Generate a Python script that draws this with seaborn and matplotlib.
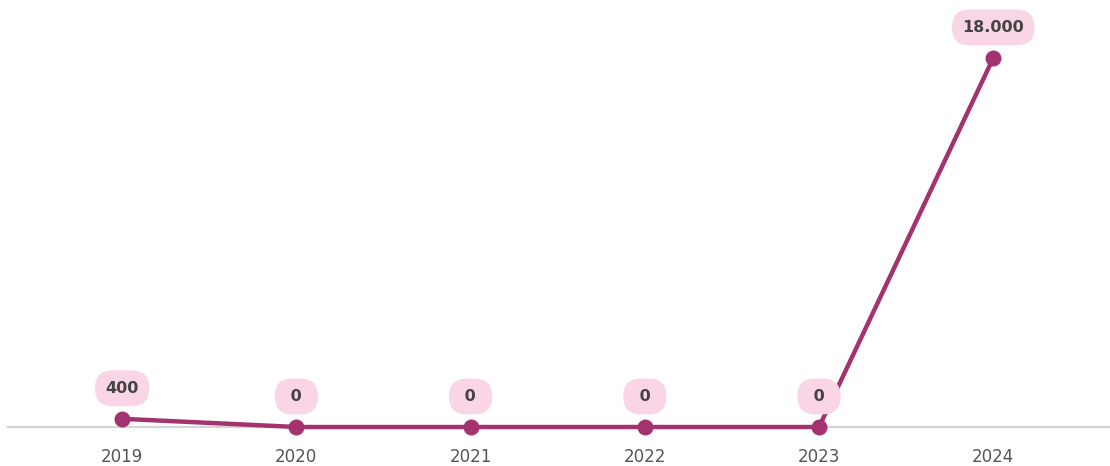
import matplotlib
matplotlib.use("Agg")
import matplotlib.pyplot as plt
import seaborn as sns
import pandas as pd

years = ["2019", "2020", "2021", "2022", "2023", "2024"]
values = [400, 0, 0, 0, 0, 18000]
labels = ["400", "0", "0", "0", "0", "18.000"]

line_color = "#a3326e"
box_color = "#f9d5e5"
text_color = "#444444"

sns.set_theme(style="white")
plt.rcParams["font.family"] = ["DejaVu Sans"]

df = pd.DataFrame({"year": years, "value": values})
df["pos"] = range(len(years))

fig = plt.figure(figsize=(11.10, 4.66), dpi=100)
ax = fig.add_axes([8 / 1110, 39 / 466, 1102 / 1110, 427 / 466])

sns.lineplot(data=df, x="pos", y="value", ax=ax, color=line_color,
             linewidth=3.2, marker="o", markersize=11.5,
             markeredgewidth=0, markerfacecolor=line_color, clip_on=False,
             zorder=3)

for x, y, t in zip(df["pos"], df["value"], labels):
    # short labels get a rounder, pill-like badge
    shown = f" {t} " if len(t) == 1 else t
    ax.annotate(shown, (x, y), xytext=(0, 22), textcoords="offset points",
                ha="center", va="center", fontsize=11.5, fontweight="bold",
                color=text_color,
                bbox=dict(boxstyle="round,pad=0.65,rounding_size=1.1",
                          fc=box_color, ec="none"),
                zorder=4, annotation_clip=False)

ax.set_xlim(-0.655, 5.67)
ax.set_ylim(0, 20830)
ax.set_xticks(df["pos"])
ax.set_xticklabels(years)
ax.set_yticks([])
ax.set_xlabel("")
ax.set_ylabel("")
ax.tick_params(axis="x", length=0, pad=15, labelsize=12, labelcolor="#555555")

for side in ["top", "left", "right"]:
    ax.spines[side].set_visible(False)
ax.spines["bottom"].set_color("#d4d4d4")
ax.spines["bottom"].set_linewidth(1.6)
ax.spines["bottom"].set_zorder(1)

fig.savefig("out.png", dpi=100)
